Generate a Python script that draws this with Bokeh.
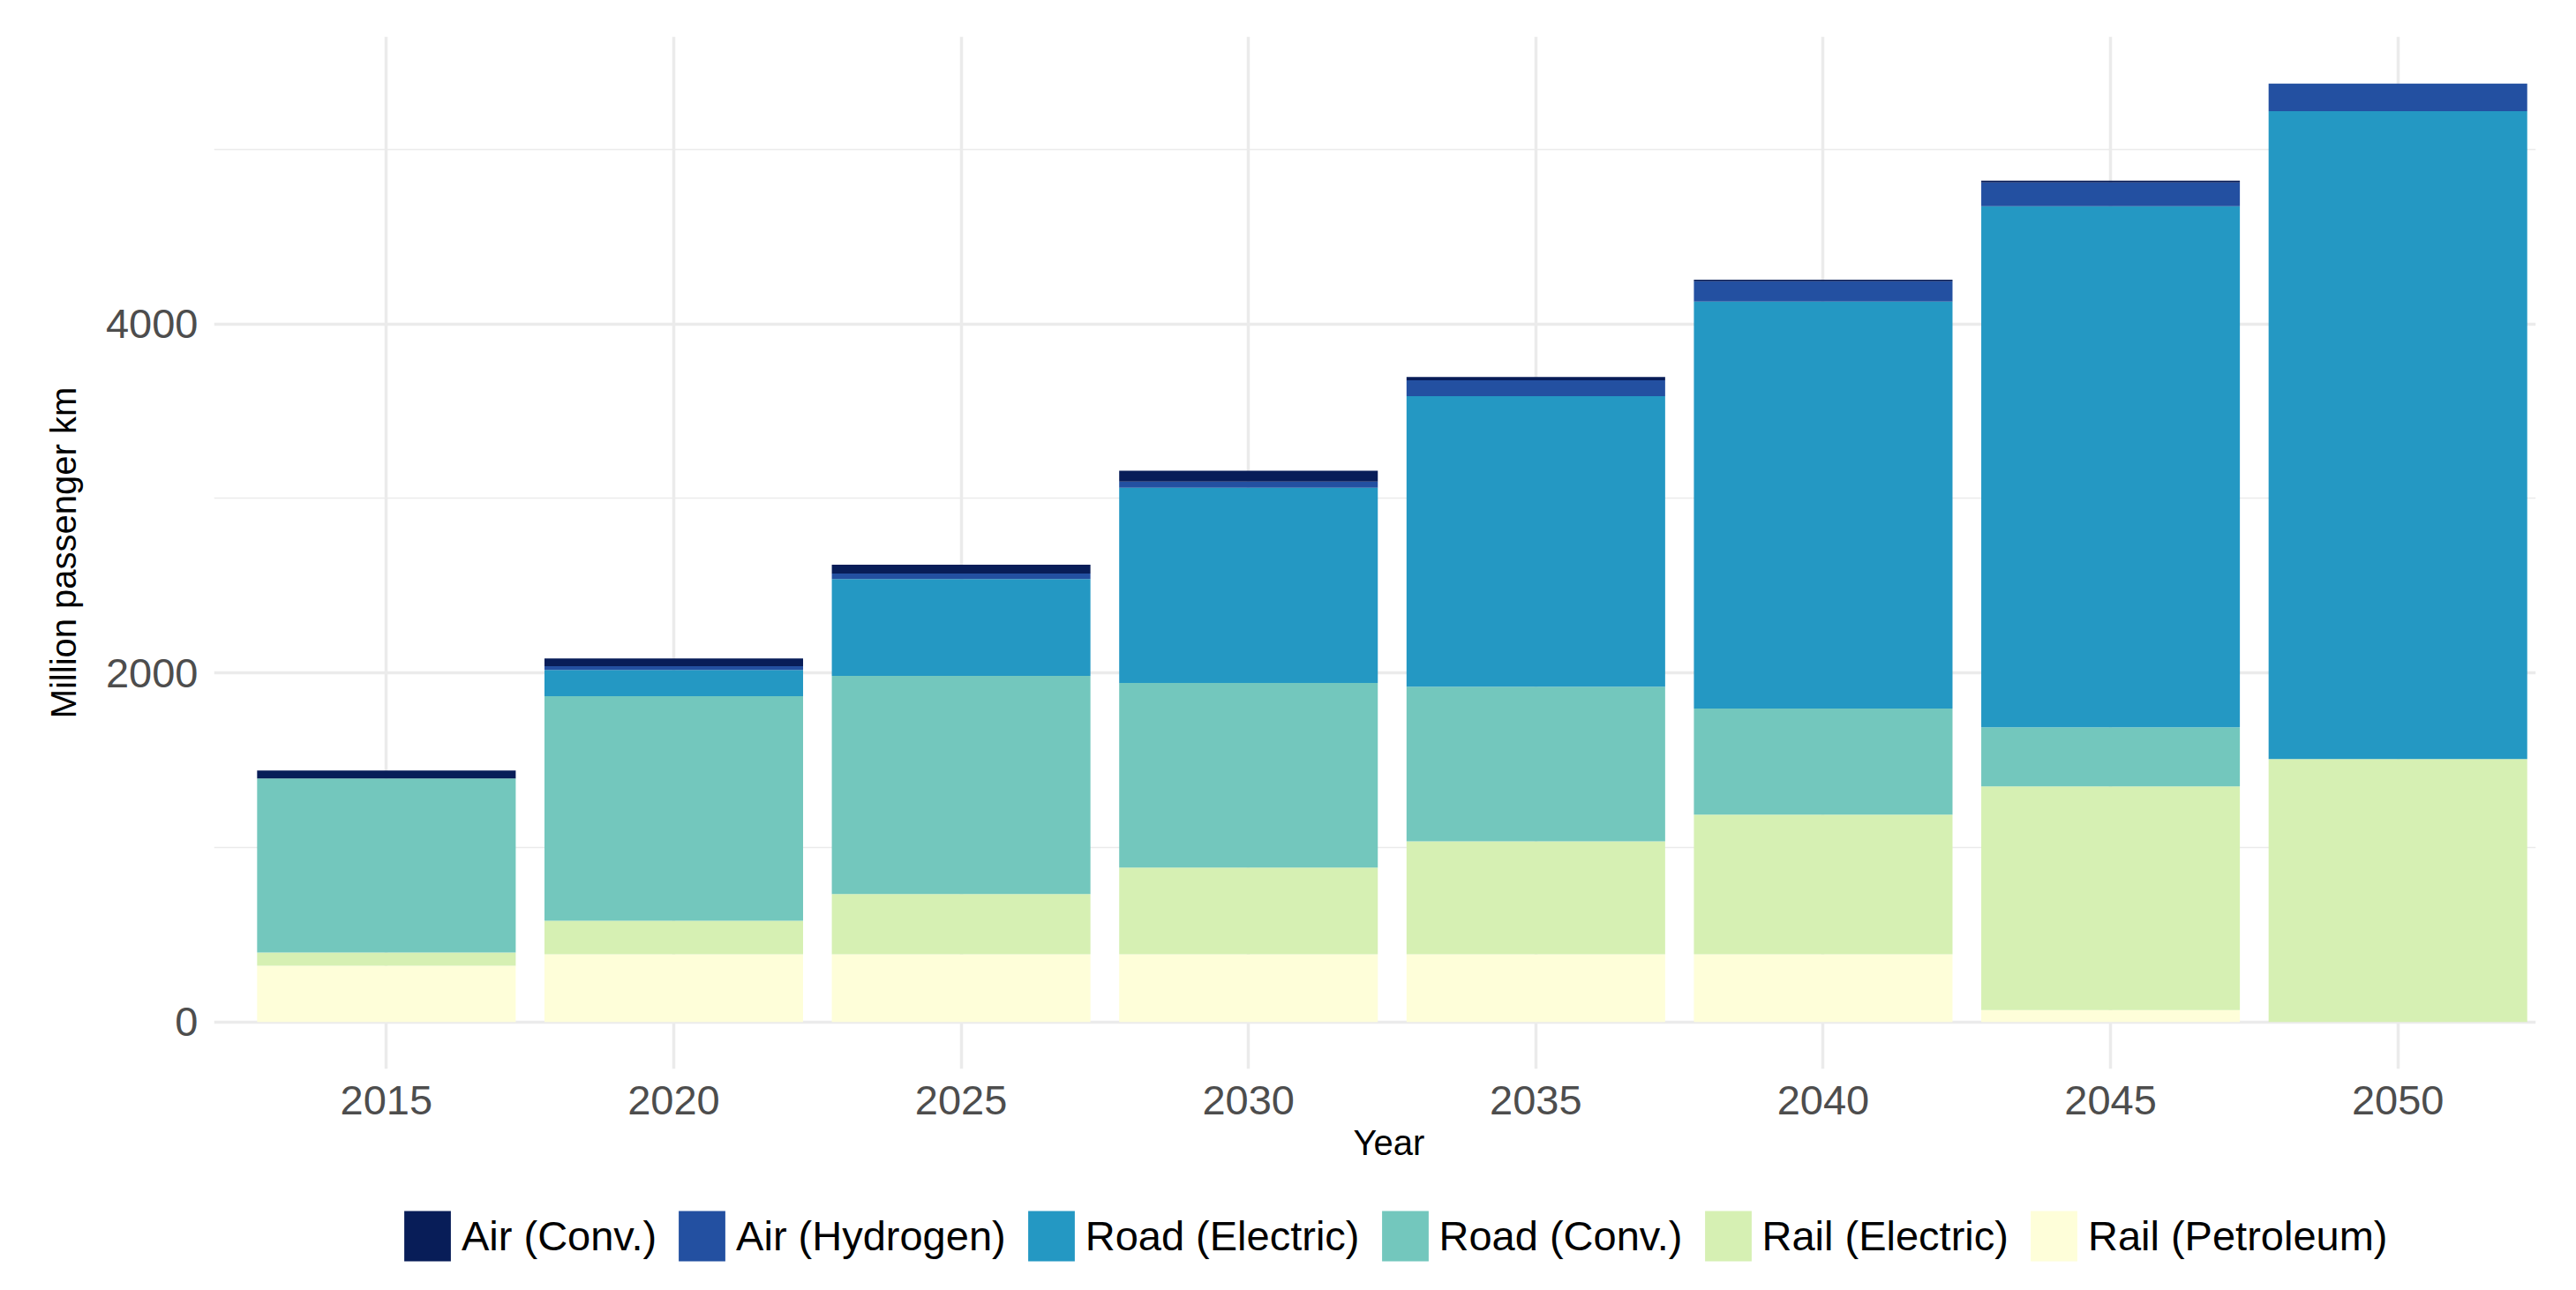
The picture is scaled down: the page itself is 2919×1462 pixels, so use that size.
from bokeh.plotting import figure
from bokeh.layouts import column
from bokeh.models import (ColumnDataSource, Range1d, FixedTicker, Legend, LegendItem, Title)
from bokeh.embed import file_html
from bokeh.resources import INLINE

# ---- data ----
years = [2015, 2020, 2025, 2030, 2035, 2040, 2045, 2050]
rail_petroleum = [323, 388, 388, 388, 388, 388, 69, 0]
rail_electric = [75, 193, 345, 497, 648, 800, 1281, 1507]
road_conv = [998, 1286, 1250, 1058, 886, 608, 339, 0]
road_electric = [0, 151, 556, 1119, 1665, 2333, 2986, 3713]
air_hydrogen = [0, 21, 31, 35, 91, 116, 137, 158]
air_conv = [45, 45, 51, 62, 19, 9, 10, 0]

stack_keys = ["rail_petroleum", "rail_electric", "road_conv",
              "road_electric", "air_hydrogen", "air_conv"]
stack_labels = ["Rail (Petroleum)", "Rail (Electric)", "Road (Conv.)",
                "Road (Electric)", "Air (Hydrogen)", "Air (Conv.)"]
stack_colors = ["#FEFED9", "#D6F0B3", "#73C7BD", "#2498C3", "#2350A1", "#081D58"]

y_ticks = [0, 2000, 4000]
y_minor = [1000, 3000, 5000]

source = ColumnDataSource(dict(
    year=years,
    rail_petroleum=rail_petroleum,
    rail_electric=rail_electric,
    road_conv=road_conv,
    road_electric=road_electric,
    air_hydrogen=air_hydrogen,
    air_conv=air_conv,
))

FONT = "Liberation Sans"
LEFT, RIGHT = 242, 27

p = figure(width=2900, height=1365, output_backend="svg", toolbar_location=None,
           x_range=Range1d(2012.0, 2052.4), y_range=Range1d(-269, 5647),
           min_border_left=LEFT, min_border_right=RIGHT, min_border_top=41,
           min_border_bottom=154)
p.outline_line_color = None
p.background_fill_color = "white"
p.border_fill_color = "white"

renderers = p.vbar_stack(stack_keys, x="year", width=4.5, source=source,
                         fill_color=stack_colors, line_color=None)

# axes
p.xaxis.ticker = FixedTicker(ticks=years, minor_ticks=[])
p.yaxis.ticker = FixedTicker(ticks=y_ticks, minor_ticks=y_minor)
for ax in (p.xaxis, p.yaxis):
    ax.axis_line_color = None
    ax.major_tick_line_color = None
    ax.minor_tick_line_color = None
    ax.major_label_text_font = FONT
    ax.major_label_text_font_size = "47px"
    ax.major_label_text_color = "#4D4D4D"
    ax.axis_label_text_font = FONT
    ax.axis_label_text_font_size = "40px"
    ax.axis_label_text_font_style = "normal"
    ax.axis_label_text_color = "black"

p.yaxis.axis_label = "Million passenger km"
p.xaxis.major_label_standoff = 13
p.yaxis.major_label_standoff = 12
p.yaxis.axis_label_standoff = 23

# x-axis title (placed a little right of the frame centre, as in the reference)
p.add_layout(Title(text="Year", align="left", offset=1291, vertical_align="top",
                   standoff=14, text_font=FONT, text_font_size="40px",
                   text_font_style="normal", text_color="black"), "below")

# grid
p.xgrid.grid_line_color = "#EBEBEB"
p.xgrid.grid_line_width = 3.5
p.ygrid.grid_line_color = "#EBEBEB"
p.ygrid.grid_line_width = 3.5
p.ygrid.minor_grid_line_color = "#EBEBEB"
p.ygrid.minor_grid_line_width = 1.7
p.xgrid.level = "underlay"
p.ygrid.level = "underlay"

# ---- legend strip below the chart ----
lg = figure(width=2900, height=71, output_backend="svg", toolbar_location=None,
            x_range=Range1d(0, 1), y_range=Range1d(0, 1),
            min_border_left=LEFT, min_border_right=RIGHT, min_border_top=0,
            min_border_bottom=0)
lg.axis.visible = False
lg.grid.visible = False
lg.outline_line_color = None
lg.background_fill_color = "white"
lg.border_fill_color = "white"

# key glyphs: zero-height bars, so only the legend shows their colours
key_renderers = [lg.vbar(x=[0.5], top=[0], bottom=[0], width=0.1,
                         fill_color=c, line_color=None)
                 for c in stack_colors]
items = [LegendItem(label=lab, renderers=[r])
         for lab, r in zip(stack_labels[::-1], key_renderers[::-1])]
legend = Legend(items=items, orientation="horizontal", location=(209, 0),
                glyph_width=66, glyph_height=71, label_standoff=6, spacing=18,
                padding=0, margin=0, border_line_color=None,
                background_fill_alpha=0,
                label_text_font=FONT, label_text_font_size="47px",
                label_text_color="black")
lg.add_layout(legend, "center")

layout = column(p, lg, spacing=0)
open("out.html", "w").write(file_html(layout, INLINE))
